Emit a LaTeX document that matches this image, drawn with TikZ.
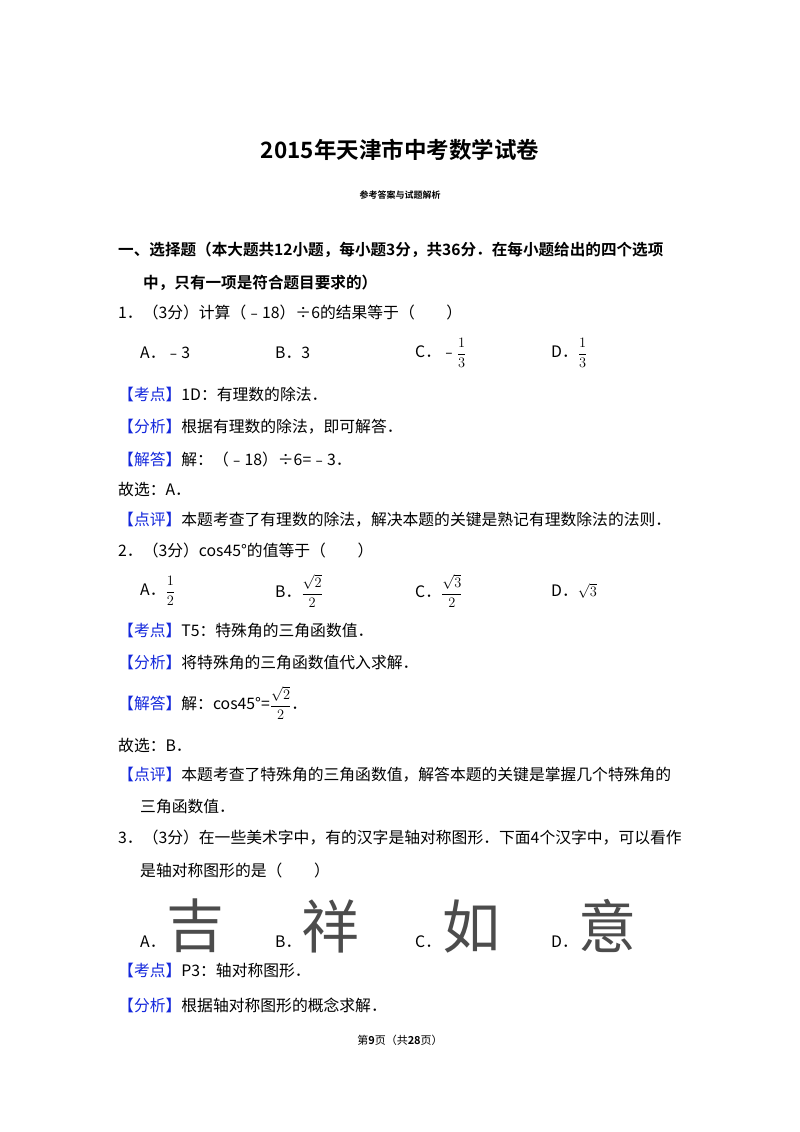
\documentclass[tikz,border=0pt]{standalone}
\usepackage{fontspec}
\usepackage{amsmath}
\setmainfont{Carlito}
\newfontfamily\cjk{Noto Sans CJK SC}
\newfontfamily\cjkb{Noto Sans CJK SC Bold}
\definecolor{kb}{RGB}{20,40,220}
\begin{document}
\begin{tikzpicture}[x=1pt,y=-1pt,
 t/.style={anchor=west,inner sep=0pt,font=\fontsize{15.8}{18}\selectfont\cjk},
 bt/.style={anchor=west,inner sep=0pt,font=\fontsize{15.6}{20}\selectfont\cjkb},
 big/.style={anchor=south west,inner sep=0pt,font=\fontsize{58}{58}\selectfont\cjk,text=black!70}]
\useasboundingbox[fill=white] (0,0) rectangle (800,1132);
\newcommand\kd[1]{{\color{kb}【#1】}}
\newcommand\fr[2]{$\dfrac{#1}{#2}$}
\node[anchor=center,inner sep=0pt,font=\fontsize{22.5}{24}\selectfont\cjkb] (title) at (400,150) {2015年天津市中考数学试卷};
\node[anchor=center,inner sep=0pt,font=\fontsize{9}{11}\selectfont\cjkb] (sub) at (400,195) {参考答案与试题解析};
\node[bt] (s1) at (118,250) {一、选择题（本大题共12小题，每小题3分，共36分．在每小题给出的四个选项};
\node[bt] (s2) at (143,283) {中，只有一项是符合题目要求的）};
\node[t] (q1) at (118,312) {1．（3分）计算（﹣18）÷6的结果等于（\qquad）};
\node[t] (q1a) at (140,353) {A．﹣3};
\node[t] (q1b) at (275,353) {B．3};
\node[t] (q1c) at (415,353) {C．﹣\fr{1}{3}};
\node[t] (q1d) at (551,353) {D．\fr{1}{3}};
\node[t] (k1) at (118,394) {\kd{考点}1D：有理数的除法．};
\node[t] (f1) at (118,427) {\kd{分析}根据有理数的除法，即可解答．};
\node[t] (j1) at (118,459) {\kd{解答}解：（﹣18）÷6=﹣3．};
\node[t] (g1) at (118,489) {故选：A．};
\node[t] (p1) at (118,520) {\kd{点评}本题考查了有理数的除法，解决本题的关键是熟记有理数除法的法则．};
\node[t] (q2) at (118,550) {2．（3分）cos45°的值等于（\qquad）};
\node[t] (q2a) at (140,591) {A．\fr{1}{2}};
\node[t] (q2b) at (275,591) {B．\fr{\sqrt{2}}{2}};
\node[t] (q2c) at (415,591) {C．\fr{\sqrt{3}}{2}};
\node[t] (q2d) at (551,591) {D．$\sqrt{3}$};
\node[t] (k2) at (118,631) {\kd{考点}T5：特殊角的三角函数值．};
\node[t] (f2) at (118,663) {\kd{分析}将特殊角的三角函数值代入求解．};
\node[t] (j2) at (118,703) {\kd{解答}解：cos45°=\fr{\sqrt{2}}{2}．};
\node[t] (g2) at (118,745) {故选：B．};
\node[t] (p2) at (118,775) {\kd{点评}本题考查了特殊角的三角函数值，解答本题的关键是掌握几个特殊角的};
\node[t] (p2b) at (140,807) {三角函数值．};
\node[t] (q3) at (118,838) {3．（3分）在一些美术字中，有的汉字是轴对称图形．下面4个汉字中，可以看作};
\node[t] (q3b) at (140,870) {是轴对称图形的是（\qquad）};
\node[t] (q3a) at (140,942) {A．};
\node[big] (ca) at (166,953) {吉};
\node[t] (q3bb) at (275,942) {B．};
\node[big] (cb) at (301,953) {祥};
\node[t] (q3c) at (415,942) {C．};
\node[big] (cc) at (442,953) {如};
\node[t] (q3d) at (551,942) {D．};
\node[big] (cd) at (578,953) {意};
\node[t] (k3) at (118,970) {\kd{考点}P3：轴对称图形．};
\node[t] (f3) at (118,1005) {\kd{分析}根据轴对称图形的概念求解．};
\node[anchor=center,inner sep=0pt,font=\fontsize{11}{13}\selectfont\cjk] (foot) at (400,1040) {第{\cjkb 9}页（共{\cjkb 28}页）};
\end{tikzpicture}
\end{document}
